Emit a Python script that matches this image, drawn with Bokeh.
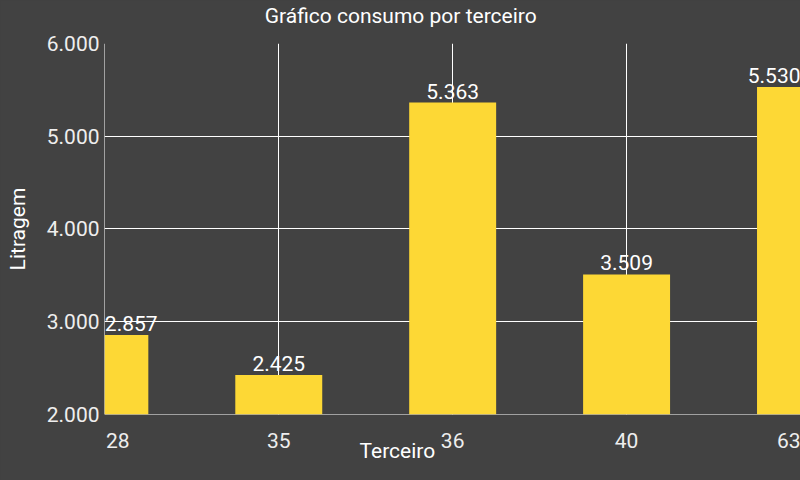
from bokeh.plotting import figure
from bokeh.models import (ColumnDataSource, Range1d, FixedTicker, LabelSet, Title,
                          LinearAxis, CustomJSTickFormatter)
from bokeh.core.properties import value
from bokeh.embed import file_html
from bokeh.resources import INLINE

categories = ["28", "35", "36", "40", "63"]
litragem = [2857, 2425, 5363, 3509, 5530]
y_ticks = [2000, 3000, 4000, 5000, 6000]
y_tick_labels = ["2.000", "3.000", "4.000", "5.000", "6.000"]
title_text = "Gráfico consumo por terceiro"
x_label = "Terceiro"
y_label = "Litragem"

BG = "#424242"
BAR = "#fdd835"
FONT = "Roboto"
FS = "21px"
W, H = 800, 480
LEFT, TOP, BOTTOM = 104, 42, 66
NB = "\u00a0" * 5  # keeps the first tick label inside the plot like the reference

idx = list(range(len(categories)))
n = len(categories)
bar_labels = [f"{v:,}".replace(",", ".") for v in litragem]
aligns = ["left" if i == 0 else "right" if i == n - 1 else "center" for i in idx]
source = ColumnDataSource(dict(x=idx, top=litragem, label=bar_labels, cat=categories, align=aligns))

tick_text = {i: (NB + c if i == 0 else c) for i, c in zip(idx, categories)}

p = figure(width=W, height=H, output_backend="svg", toolbar_location=None,
           x_range=Range1d(idx[0] - 0.002, idx[-1]),
           y_range=Range1d(y_ticks[0] - 1, y_ticks[-1]),
           min_border_left=LEFT, min_border_right=0, min_border_top=TOP, min_border_bottom=BOTTOM)
p.background_fill_color = BG
p.border_fill_color = BG
p.outline_line_color = None

bottom_axis = p.below[0]
left_axis = p.left[0]
xgrid = p.xgrid[0]
ygrid = p.ygrid[0]

p.vbar(x="x", top="top", bottom=y_ticks[0], width=0.5, source=source, fill_color=BAR, line_color=None)

labels = LabelSet(x="x", y="top", text="label", source=source, text_align="align",
                  text_baseline="alphabetic", y_offset=4, text_color="white",
                  text_font=value(FONT), text_font_size=FS)
p.add_layout(labels)

# axes
bottom_axis.ticker = FixedTicker(ticks=idx)
bottom_axis.major_label_overrides = tick_text
left_axis.ticker = FixedTicker(ticks=y_ticks)
left_axis.major_label_overrides = {t: l for t, l in zip(y_ticks, y_tick_labels)}

# title as a single label on an axis above, centred on the canvas like the reference
title_pos = (W / 2 - LEFT) / (W - LEFT) * (n - 1)
top_axis = LinearAxis(ticker=FixedTicker(ticks=[title_pos]),
                      formatter=CustomJSTickFormatter(args=dict(t=title_text), code="return t"))
p.add_layout(top_axis, "above")

for ax in (bottom_axis, left_axis, top_axis):
    ax.axis_line_color = None
    ax.major_tick_line_color = None
    ax.minor_tick_line_color = None
    ax.major_tick_out = 0
    ax.major_tick_in = 0
    ax.major_label_text_color = "#eeeeee"
    ax.major_label_text_font = FONT
    ax.major_label_text_font_size = FS
bottom_axis.major_label_standoff = 14
left_axis.major_label_standoff = 5
top_axis.major_label_standoff = 16
top_axis.major_label_text_color = "white"

left_axis.axis_label = y_label
left_axis.axis_label_standoff = 14
left_axis.axis_label_text_color = "white"
left_axis.axis_label_text_font = FONT
left_axis.axis_label_text_font_size = FS
left_axis.axis_label_text_font_style = "normal"

xlab = Title(text=x_label, align="left", offset=255, standoff=-34, vertical_align="top",
             text_color="white", text_font=FONT, text_font_size=FS, text_font_style="normal")
p.add_layout(xlab, "below")

xgrid.ticker = FixedTicker(ticks=idx)
ygrid.ticker = FixedTicker(ticks=y_ticks)
for g in (xgrid, ygrid):
    g.grid_line_color = "white"
    g.grid_line_width = 1
    g.grid_line_alpha = 1.0

html = file_html(p, INLINE)
html = html.replace("<head>", "<head><style>html,body{background-color:#424242;}</style>", 1)
open("out.html", "w").write(html)
